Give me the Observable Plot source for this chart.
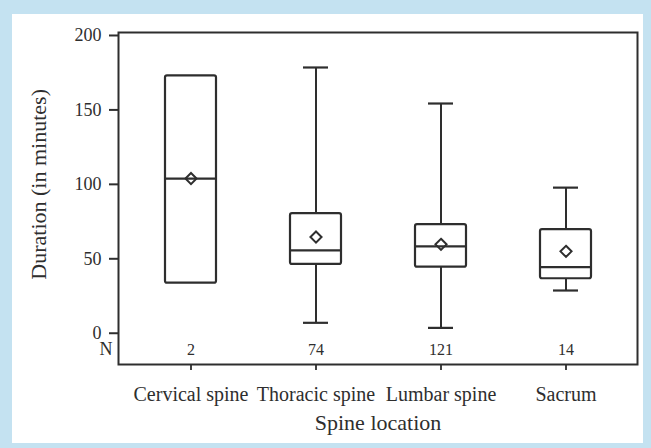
<!DOCTYPE html>
<html>
<head>
<meta charset="utf-8">
<script src="https://cdn.jsdelivr.net/npm/d3@7"></script>
<script src="https://cdn.jsdelivr.net/npm/@observablehq/plot@0.6"></script>
<style>
  html, body { margin: 0; padding: 0; }
  body { width: 651px; height: 448px; background: #c4e2f1; position: relative; overflow: hidden; }
  #panel { position: absolute; left: 12px; top: 14px; width: 631px; height: 429px; background: #ffffff; }
  #chart { position: absolute; left: 0; top: 0; }
  #chart svg { background: transparent; }
</style>
</head>
<body>
<div id="panel"></div>
<div id="chart"></div>
<script>
// Data
const locations = ["Cervical spine", "Thoracic spine", "Lumbar spine", "Sacrum"];
const counts    = [2, 74, 121, 14];
const whiskerLo = [null, 7.0, 3.6, 28.7];
const q1        = [33.6, 46.2, 44.4, 36.6];
const medians   = [103.9, 55.6, 58.3, 44.4];
const q3        = [172.9, 80.3, 72.9, 69.6];
const whiskerHi = [null, 178.5, 154.3, 97.8];
const means     = [103.9, 64.6, 59.7, 55.0];
const yTicks    = [0, 50, 100, 150, 200];
const yTitle = "Duration (in minutes)";
const xTitle = "Spine location";

const rows = locations.map((loc, i) => ({
  loc, n: counts[i], lo: whiskerLo[i], q1: q1[i], med: medians[i],
  q3: q3[i], hi: whiskerHi[i], mean: means[i]
}));
const withWhiskers = rows.filter(d => d.lo != null && d.hi != null);

const ink = "#2e2e2e";
const font = "Liberation Serif";

const chart = Plot.plot({
  width: 651,
  height: 448,
  marginLeft: 118,
  marginRight: 14,
  marginTop: 32,
  marginBottom: 84,
  style: { fontFamily: font, color: ink, background: "transparent", overflow: "visible" },
  x: { type: "band", domain: locations, paddingInner: 0.593, paddingOuter: 0.369 },
  y: { domain: [-21, 202] },
  marks: [
    Plot.frame({ stroke: ink, strokeWidth: 2 }),
    Plot.axisY({ ticks: yTicks, tickSize: 9, tickPadding: 8, fontSize: 18, label: null, stroke: ink, strokeWidth: 2 }),
    Plot.axisX({ tickSize: 6, tickPadding: 16, fontSize: 20, label: null, stroke: ink, strokeWidth: 1.8 }),
    // whiskers
    Plot.ruleX(withWhiskers, { x: "loc", y1: "q3", y2: "hi", stroke: ink, strokeWidth: 2 }),
    Plot.ruleX(withWhiskers, { x: "loc", y1: "lo", y2: "q1", stroke: ink, strokeWidth: 2 }),
    Plot.tickY(withWhiskers, { x: "loc", y: "hi", insetLeft: 13, insetRight: 13, stroke: ink, strokeWidth: 2.2 }),
    Plot.tickY(withWhiskers, { x: "loc", y: "lo", insetLeft: 13, insetRight: 13, stroke: ink, strokeWidth: 2.2 }),
    // boxes
    Plot.barY(rows, { x: "loc", y1: "q1", y2: "q3", fill: "none", stroke: ink, strokeWidth: 2.2, rx: 2 }),
    // means
    Plot.dot(rows, { x: "loc", y: "mean", symbol: "diamond2", r: 5, fill: "white", stroke: ink, strokeWidth: 2 }),
    // medians
    Plot.tickY(rows, { x: "loc", y: "med", stroke: ink, strokeWidth: 2.2 }),
    // N row
    Plot.text(rows, { x: "loc", text: d => String(d.n), frameAnchor: "bottom", dy: -10, fontSize: 16, fill: ink }),
    Plot.text(["N"], { frameAnchor: "bottom-left", dx: -6, dy: -10, textAnchor: "end", fontSize: 18, fill: ink }),
    // axis titles
    Plot.text([xTitle], { frameAnchor: "bottom", dy: 65, fontSize: 22, fill: ink }),
    Plot.text([yTitle], { frameAnchor: "left", y: [(d3.min(yTicks) + d3.max(yTicks)) / 2], rotate: -90, textAnchor: "middle", dx: -80, fontSize: 22, fill: ink })
  ]
});
document.getElementById("chart").appendChild(chart);
</script>
</body>
</html>
